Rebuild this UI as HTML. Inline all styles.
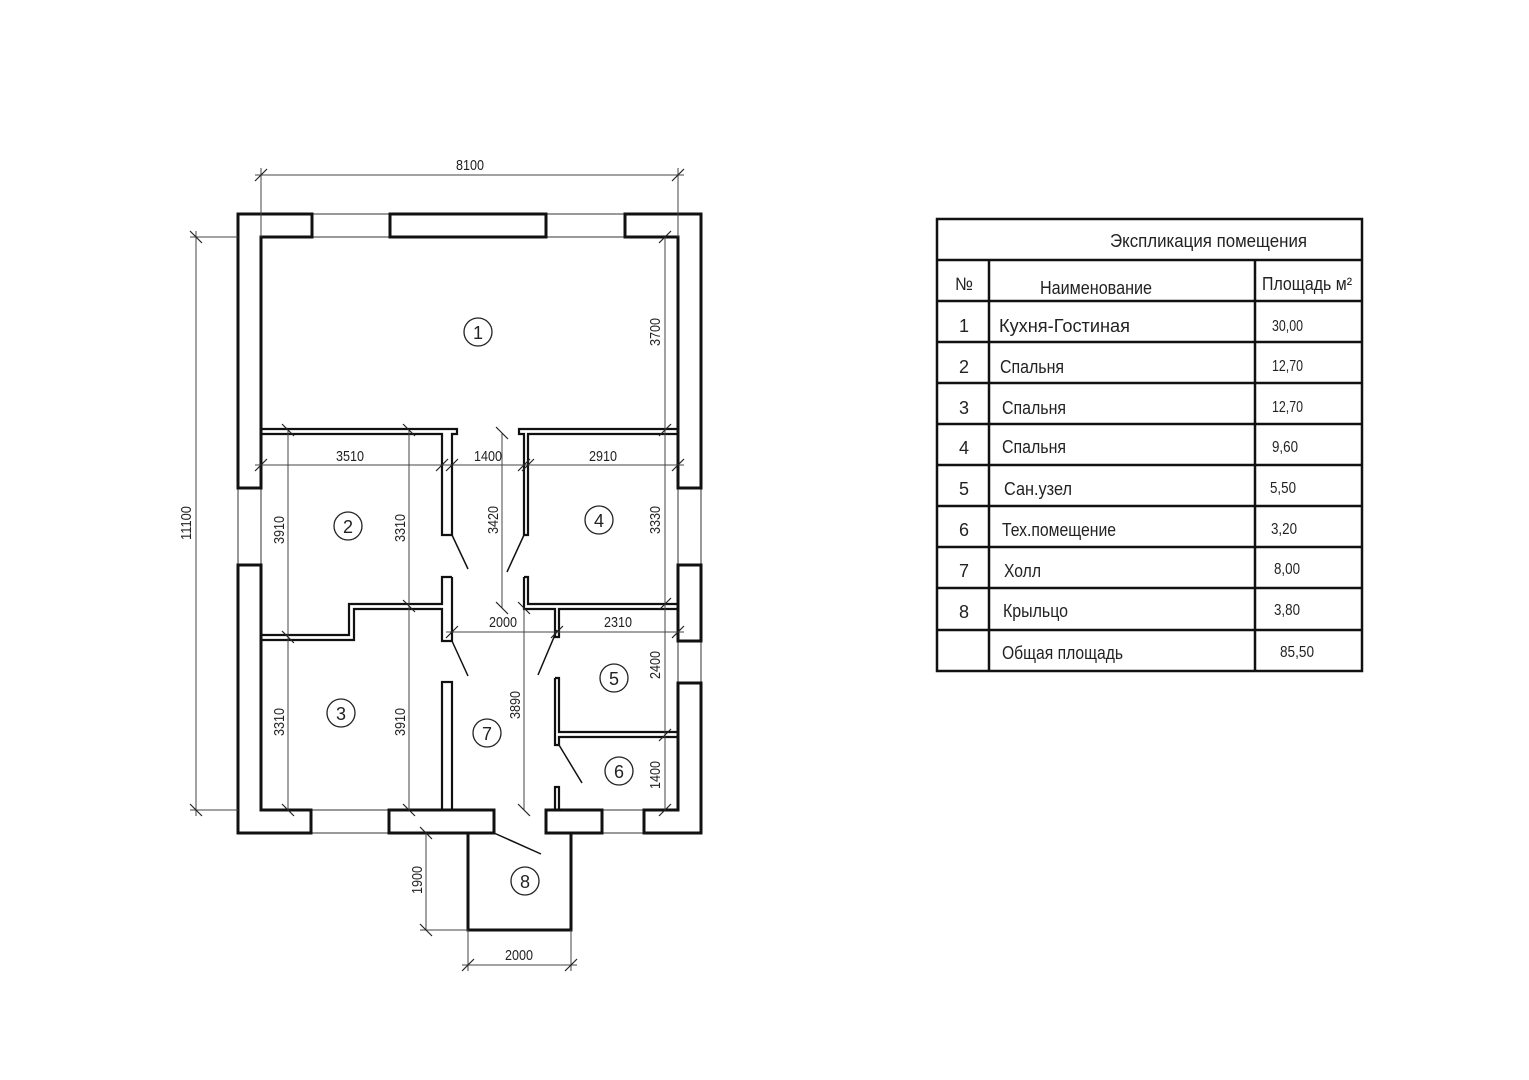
<!DOCTYPE html>
<html><head><meta charset="utf-8"><style>
html,body{margin:0;padding:0;background:#fff;}
svg{display:block;}
text{font-family:"Liberation Sans",sans-serif;fill:#222;}
</style></head><body>
<svg width="1529" height="1080" viewBox="0 0 1529 1080" xmlns="http://www.w3.org/2000/svg">
<rect width="1529" height="1080" fill="#fff"/>
<g stroke="#333" stroke-width="1" fill="none">
<line x1="312" y1="214" x2="390" y2="214"/><line x1="312" y1="237" x2="390" y2="237"/>
<line x1="546" y1="214" x2="625" y2="214"/><line x1="546" y1="237" x2="625" y2="237"/>
<line x1="238" y1="488" x2="238" y2="565"/><line x1="261" y1="488" x2="261" y2="565"/>
<line x1="701" y1="488" x2="701" y2="565"/><line x1="678" y1="488" x2="678" y2="565"/>
<line x1="701" y1="641" x2="701" y2="683"/><line x1="678" y1="641" x2="678" y2="683"/>
<line x1="311" y1="833" x2="389" y2="833"/><line x1="311" y1="810" x2="389" y2="810"/>
<line x1="602" y1="833" x2="644" y2="833"/><line x1="602" y1="810" x2="644" y2="810"/>
</g>
<g stroke="#111" stroke-width="3" fill="none" stroke-linejoin="miter">
<path d="M312 214 H238 V488 H261 V237 H312 Z"/>
<rect x="390" y="214" width="156" height="23"/>
<path d="M625 214 H701 V488 H678 V237 H625 Z"/>
<rect x="678" y="565" width="23" height="76"/>
<path d="M701 683 V833 H644 V810 H678 V683 Z"/>
<path d="M238 565 V833 H311 V810 H261 V565 Z"/>
<rect x="389" y="810" width="105" height="23"/>
<rect x="546" y="810" width="56" height="23"/>
<path d="M468 833 V930 H571 V833"/>
</g>
<g stroke="#111" stroke-width="2.2" fill="none">
<path d="M261 429 H457 V434 H452 V535 H442 V434 H261"/>
<path d="M678 429 H519 V434 H524 V535 H528 V434 H678"/>
<path d="M452 577 V641 H442 V609 H354 V640 H261 M261 635 H349 V604 H442 V577 H452"/>
<rect x="442" y="682" width="10" height="128"/>
<path d="M524 577 V609 H555 V637 H559 V609 H678 M678 604 H528 V577 H524"/>
<path d="M555 678 V745 H559 V737 H678 M678 732 H559 V678 H555"/>
<rect x="555" y="787" width="4" height="23"/>
</g>
<g stroke="#111" stroke-width="1.5">
<line x1="452" y1="535" x2="468" y2="569"/>
<line x1="524" y1="535" x2="507" y2="572"/>
<line x1="452" y1="641" x2="468" y2="676"/>
<line x1="557" y1="630" x2="538" y2="675"/>
<line x1="559" y1="745" x2="582" y2="783"/>
<line x1="494" y1="833" x2="541" y2="854"/>
</g>
<g stroke="#444" stroke-width="1" fill="none">
<line x1="255" y1="175" x2="684" y2="175"/>
<line x1="261" y1="168" x2="261" y2="237"/><line x1="678" y1="168" x2="678" y2="237"/>
<line x1="196" y1="231" x2="196" y2="816"/>
<line x1="190" y1="237" x2="238" y2="237"/><line x1="190" y1="810" x2="238" y2="810"/>
<line x1="665" y1="237" x2="665" y2="810"/>
<line x1="255" y1="465" x2="684" y2="465"/>
<line x1="288" y1="430" x2="288" y2="810"/>
<line x1="409" y1="430" x2="409" y2="810"/>
<line x1="502" y1="433" x2="502" y2="608"/>
<line x1="524" y1="608" x2="524" y2="810"/>
<line x1="446" y1="632" x2="684" y2="632"/>
<line x1="426" y1="833" x2="426" y2="930"/><line x1="420" y1="930" x2="468" y2="930"/>
<line x1="462" y1="965" x2="577" y2="965"/>
<line x1="468" y1="930" x2="468" y2="971"/><line x1="571" y1="930" x2="571" y2="971"/>
</g>
<g stroke="#222" stroke-width="1.2">
<path d="M255 181 l12 -12 M672 181 l12 -12"/>
<path d="M190 231 l12 12 M190 804 l12 12"/>
<path d="M659 243 l12 -12 M659 436 l12 -12 M659 610 l12 -12 M659 741 l12 -12 M659 816 l12 -12"/>
<path d="M255 471 l12 -12 M436 471 l12 -12 M446 471 l12 -12 M518 471 l12 -12 M522 471 l12 -12 M672 471 l12 -12"/>
<path d="M282 424 l12 12 M282 631 l12 12 M282 804 l12 12 M403 424 l12 12 M403 600 l12 12 M403 804 l12 12"/>
<path d="M496 427 l12 12 M496 602 l12 12 M518 602 l12 12 M518 804 l12 12"/>
<path d="M446 638 l12 -12 M551 638 l12 -12 M672 638 l12 -12"/>
<path d="M420 827 l12 12 M420 924 l12 12"/>
<path d="M462 971 l12 -12 M565 971 l12 -12"/>
</g>
<g font-size="15" fill="#333" lengthAdjust="spacingAndGlyphs">
<text x="456" y="170" textLength="28" lengthAdjust="spacingAndGlyphs">8100</text>
<text x="336" y="461" textLength="28" lengthAdjust="spacingAndGlyphs">3510</text>
<text x="474" y="461" textLength="28" lengthAdjust="spacingAndGlyphs">1400</text>
<text x="589" y="461" textLength="28" lengthAdjust="spacingAndGlyphs">2910</text>
<text x="489" y="627" textLength="28" lengthAdjust="spacingAndGlyphs">2000</text>
<text x="604" y="627" textLength="28" lengthAdjust="spacingAndGlyphs">2310</text>
<text x="505" y="960" textLength="28" lengthAdjust="spacingAndGlyphs">2000</text>
<text transform="translate(191,540) rotate(-90)" textLength="34" lengthAdjust="spacingAndGlyphs">11100</text>
<text transform="translate(660,346) rotate(-90)" textLength="28" lengthAdjust="spacingAndGlyphs">3700</text>
<text transform="translate(284,544) rotate(-90)" textLength="28" lengthAdjust="spacingAndGlyphs">3910</text>
<text transform="translate(405,542) rotate(-90)" textLength="28" lengthAdjust="spacingAndGlyphs">3310</text>
<text transform="translate(498,534) rotate(-90)" textLength="28" lengthAdjust="spacingAndGlyphs">3420</text>
<text transform="translate(660,534) rotate(-90)" textLength="28" lengthAdjust="spacingAndGlyphs">3330</text>
<text transform="translate(284,736) rotate(-90)" textLength="28" lengthAdjust="spacingAndGlyphs">3310</text>
<text transform="translate(405,736) rotate(-90)" textLength="28" lengthAdjust="spacingAndGlyphs">3910</text>
<text transform="translate(520,719) rotate(-90)" textLength="28" lengthAdjust="spacingAndGlyphs">3890</text>
<text transform="translate(660,679) rotate(-90)" textLength="28" lengthAdjust="spacingAndGlyphs">2400</text>
<text transform="translate(660,789) rotate(-90)" textLength="28" lengthAdjust="spacingAndGlyphs">1400</text>
<text transform="translate(422,894) rotate(-90)" textLength="28" lengthAdjust="spacingAndGlyphs">1900</text>
</g>
<g stroke="#222" stroke-width="1.3" fill="none">
<circle cx="478" cy="332" r="14"/><circle cx="348" cy="526" r="14"/>
<circle cx="599" cy="520" r="14"/><circle cx="341" cy="713" r="14"/>
<circle cx="487" cy="733" r="14"/><circle cx="614" cy="678" r="14"/>
<circle cx="619" cy="771" r="14"/><circle cx="525" cy="881" r="14"/>
</g>
<g font-size="18" text-anchor="middle">
<text x="478" y="339">1</text><text x="348" y="533">2</text>
<text x="599" y="527">4</text><text x="341" y="720">3</text>
<text x="487" y="740">7</text><text x="614" y="685">5</text>
<text x="619" y="778">6</text><text x="525" y="888">8</text>
</g>
<g stroke="#111" stroke-width="2.5" fill="none">
<rect x="937" y="219" width="425" height="452"/>
<line x1="937" y1="260" x2="1362" y2="260"/>
<line x1="989" y1="260" x2="989" y2="671"/>
<line x1="1255" y1="260" x2="1255" y2="671"/>
<line x1="937" y1="301" x2="1362" y2="301"/>
<line x1="937" y1="342" x2="1362" y2="342"/>
<line x1="937" y1="383" x2="1362" y2="383"/>
<line x1="937" y1="424" x2="1362" y2="424"/>
<line x1="937" y1="465" x2="1362" y2="465"/>
<line x1="937" y1="506" x2="1362" y2="506"/>
<line x1="937" y1="547" x2="1362" y2="547"/>
<line x1="937" y1="588" x2="1362" y2="588"/>
<line x1="937" y1="630" x2="1362" y2="630"/>
</g>
<g font-size="18">
<text x="1110" y="247" textLength="197" lengthAdjust="spacingAndGlyphs">Экспликация помещения</text>
<text x="955" y="290" textLength="18" lengthAdjust="spacingAndGlyphs">№</text>
<text x="1040" y="294" textLength="112" lengthAdjust="spacingAndGlyphs">Наименование</text>
<text x="1262" y="290" textLength="90" lengthAdjust="spacingAndGlyphs">Площадь м²</text>
<g text-anchor="middle">
<text x="964" y="332">1</text><text x="964" y="373">2</text><text x="964" y="414">3</text>
<text x="964" y="454">4</text><text x="964" y="495">5</text><text x="964" y="536">6</text>
<text x="964" y="577">7</text><text x="964" y="618">8</text>
</g>
<text x="999" y="332" textLength="131" lengthAdjust="spacingAndGlyphs">Кухня-Гостиная</text>
<text x="1000" y="373" textLength="64" lengthAdjust="spacingAndGlyphs">Спальня</text>
<text x="1002" y="414" textLength="64" lengthAdjust="spacingAndGlyphs">Спальня</text>
<text x="1002" y="453" textLength="64" lengthAdjust="spacingAndGlyphs">Спальня</text>
<text x="1004" y="495" textLength="68" lengthAdjust="spacingAndGlyphs">Сан.узел</text>
<text x="1002" y="536" textLength="114" lengthAdjust="spacingAndGlyphs">Тех.помещение</text>
<text x="1004" y="577" textLength="37" lengthAdjust="spacingAndGlyphs">Холл</text>
<text x="1003" y="617" textLength="65" lengthAdjust="spacingAndGlyphs">Крыльцо</text>
<text x="1002" y="659" textLength="121" lengthAdjust="spacingAndGlyphs">Общая площадь</text>
</g>
<g font-size="16">
<text x="1272" y="331" textLength="31" lengthAdjust="spacingAndGlyphs">30,00</text>
<text x="1272" y="371" textLength="31" lengthAdjust="spacingAndGlyphs">12,70</text>
<text x="1272" y="412" textLength="31" lengthAdjust="spacingAndGlyphs">12,70</text>
<text x="1272" y="452" textLength="26" lengthAdjust="spacingAndGlyphs">9,60</text>
<text x="1270" y="493" textLength="26" lengthAdjust="spacingAndGlyphs">5,50</text>
<text x="1271" y="534" textLength="26" lengthAdjust="spacingAndGlyphs">3,20</text>
<text x="1274" y="574" textLength="26" lengthAdjust="spacingAndGlyphs">8,00</text>
<text x="1274" y="615" textLength="26" lengthAdjust="spacingAndGlyphs">3,80</text>
<text x="1280" y="657" textLength="34" lengthAdjust="spacingAndGlyphs">85,50</text>
</g>
</svg>
</body></html>
